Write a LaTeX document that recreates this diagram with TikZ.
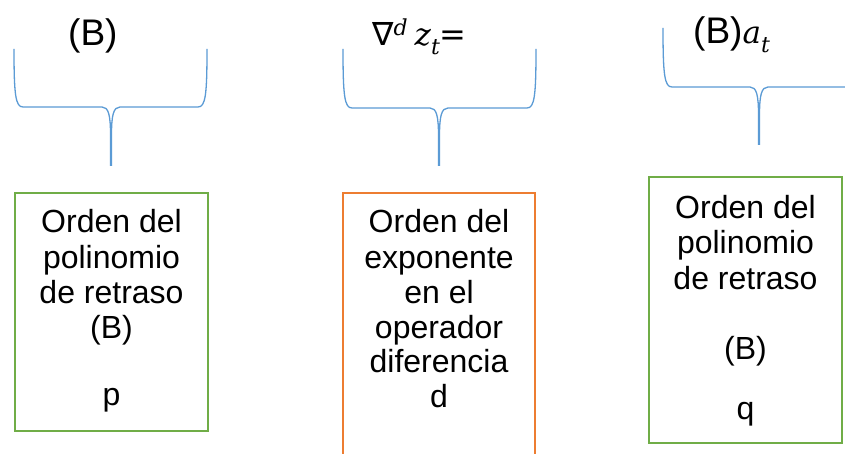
\documentclass[tikz,border=0pt]{standalone}
\usepackage{fontspec}
\setmainfont{Liberation Sans}
\newfontfamily\mserif{DejaVu Serif}
\newfontfamily\msans{DejaVu Sans}
\definecolor{braceblue}{HTML}{5B9BD5}
\definecolor{boxgreen}{HTML}{70AD47}
\definecolor{boxorange}{HTML}{ED7D31}
\newcommand{\drawbrace}[6]{%
  \draw[bracepath] (#1,#4) .. controls (#1,#5-12) and (#1+1.5,#5) .. (#1+9,#5)
     -- (#3-9,#5) .. controls (#3-2.5,#5) and (#3-0.5,#5+8) .. (#3-0.5,#5+28) -- (#3-0.5,#6);
  \draw[bracepath] (#3+0.5,#6) -- (#3+0.5,#5+28) .. controls (#3+0.5,#5+8) and (#3+2.5,#5) .. (#3+9,#5)
     -- (#2-9,#5) .. controls (#2-1.5,#5) and (#2,#5-12) .. (#2,#4);
}
\newcommand{\mvar}[1]{{\fontsize{31}{31}\mserif\itshape #1}}
\newcommand{\msup}[1]{\raisebox{10pt}{\fontsize{22}{22}\mserif\itshape #1}}
\newcommand{\msub}[1]{\raisebox{-9pt}{\fontsize{22}{22}\mserif\itshape #1}}
\begin{document}
\begin{tikzpicture}[x=1pt,y=-1pt,
  bracepath/.style={draw=braceblue, line width=1.3pt},
  greenbox/.style={draw=boxgreen, line width=2pt, inner sep=0pt},
  orangebox/.style={draw=boxorange, line width=2pt, inner sep=0pt},
  txt/.style={font=\fontsize{32}{35}\selectfont, anchor=base, inner sep=0pt},
  toplabel/.style={font=\fontsize{37}{40}\selectfont, anchor=base west, inner sep=0pt}]
\useasboundingbox (0,0) rectangle (845,454);
\clip (0,0) rectangle (845,454);
\fill[white] (0,0) rectangle (845,454);

% top labels
\node[toplabel] (l1) at (68,46) {(B)};
\node[toplabel] (l2) at (372,46) {{\fontsize{32}{32}\msans ∇}\msup{d}\hspace{7pt}\mvar{z}\msub{t}{\fontsize{32}{32}\msans =}};
\node[toplabel] (l3) at (693,44) {(B)\mvar{a}\msub{t}};

% braces
\drawbrace{14}{207}{111}{49}{107}{166}
\drawbrace{343}{536}{439}{49}{108}{166}
\drawbrace{663}{950}{759}{28}{87}{145}

% boxes
\node[greenbox, minimum width=193pt, minimum height=238pt] (b1) at (111.5,312) {};
\node[orangebox, minimum width=192pt, minimum height=290pt] (b2) at (439,338) {};
\node[greenbox, minimum width=193pt, minimum height=266pt] (b3) at (745.5,310) {};

% box 1 text
\node[txt] (b1a) at (111.5,233) {Orden del};
\node[txt] (b1b) at (111.5,268) {polinomio};
\node[txt] (b1c) at (111.5,303) {de retraso};
\node[txt] (b1d) at (111.5,338) {(B)};
\node[txt] (b1e) at (111.5,405) {p};

% box 2 text
\node[txt] (b2a) at (439,233) {Orden del};
\node[txt] (b2b) at (439,268) {exponente};
\node[txt] (b2c) at (439,303) {en el};
\node[txt] (b2d) at (439,338) {operador};
\node[txt] (b2e) at (439,372) {diferencia};
\node[txt] (b2f) at (439,407) {d};

% box 3 text
\node[txt] (b3a) at (745.5,219) {Orden del};
\node[txt] (b3b) at (745.5,254) {polinomio};
\node[txt] (b3c) at (745.5,289) {de retraso};
\node[txt] (b3d) at (745.5,359) {(B)};
\node[txt] (b3e) at (745.5,419) {q};
\end{tikzpicture}
\end{document}
